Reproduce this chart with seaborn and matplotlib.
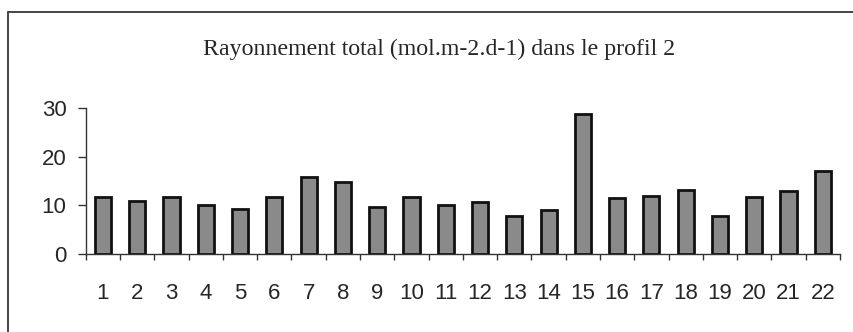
import matplotlib
matplotlib.use("Agg")
import matplotlib.pyplot as plt
from matplotlib.lines import Line2D
from matplotlib.ticker import FixedLocator
import seaborn as sns
import pandas as pd

# Total radiation per station along profile 2
stations = [str(i) for i in range(1, 23)]
rayonnement = [11.6, 10.8, 11.6, 10.1, 9.3, 11.8, 15.8, 14.7, 9.7, 11.6, 10.0,
               10.6, 7.8, 9.0, 28.8, 11.5, 12.0, 13.2, 7.8, 11.8, 13.0, 17.1]
y_ticks = [0, 10, 20, 30]
title = "Rayonnement total (mol.m-2.d-1) dans le profil 2"

df = pd.DataFrame({"station": stations, "valeur": rayonnement})

sns.set_style("white")
plt.rcParams["font.family"] = ["Liberation Sans", "DejaVu Sans"]

fig = plt.figure(figsize=(8.54, 3.32), dpi=100)
ax = fig.add_axes([0.1005, 0.235, 0.883, 0.44])

sns.barplot(data=df, x="station", y="valeur", order=stations, color="#8a8a8a",
            edgecolor="#111111", linewidth=2.0, width=0.47, saturation=1, ax=ax)

ax.set_ylim(0, 30)
ax.set_xlim(-0.5, len(stations) - 0.5)
ax.set_yticks(y_ticks)
ax.set_xlabel("")
ax.set_ylabel("")

for side in ("top", "right"):
    ax.spines[side].set_visible(False)
for side in ("left", "bottom"):
    ax.spines[side].set_color("#333333")
    ax.spines[side].set_linewidth(1.0)

ax.tick_params(axis="y", direction="out", length=6, width=1, color="#333333",
               pad=8, labelsize=16, left=True)
ax.tick_params(axis="x", which="major", length=0, pad=21, labelsize=16)
ax.xaxis.set_minor_locator(FixedLocator([i - 0.5 for i in range(len(stations) + 1)]))
ax.tick_params(axis="x", which="minor", direction="out", length=4, width=1,
               color="#333333", bottom=True)

fig.text(0.514, 1 - 55 / 332, title, ha="center", va="baseline", fontsize=17.2,
         family=["Liberation Serif", "DejaVu Serif"])

# Outer chart frame (top and left edges)
fig.add_artist(Line2D([8 / 854, 1.0], [1 - 12 / 332, 1 - 12 / 332],
                      transform=fig.transFigure, color="#444444", linewidth=1.4))
fig.add_artist(Line2D([8 / 854, 8 / 854], [0.0, 1 - 12 / 332],
                      transform=fig.transFigure, color="#444444", linewidth=1.4))

fig.savefig("out.png", dpi=100)
